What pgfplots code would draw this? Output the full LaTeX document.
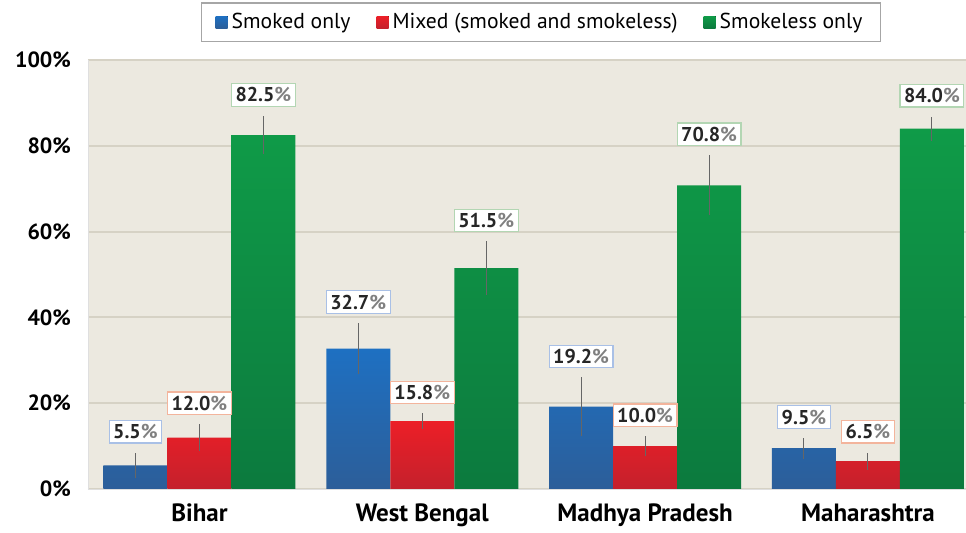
\documentclass[border=0pt]{standalone}
\usepackage{pgfplots}
\pgfplotsset{compat=1.18}
\usepackage{pgfplotstable}
\usepackage{fontspec}
\setmainfont{PT Sans}
\definecolor{bgbeige}{HTML}{ECE9E0}
\definecolor{gridc}{HTML}{D6D2C5}
\definecolor{blueT}{HTML}{1E70C2}
\definecolor{blueB}{HTML}{2C5E99}
\definecolor{redT}{HTML}{EC1F27}
\definecolor{redB}{HTML}{C4202C}
\definecolor{greenT}{HTML}{0F9B48}
\definecolor{greenB}{HTML}{0C7A3E}
\definecolor{blueL}{HTML}{A9C0E6}
\definecolor{redL}{HTML}{F3B49C}
\definecolor{greenL}{HTML}{B3D6B3}
\pgfplotstableread{
x y e
0 5.5 3.0
1 32.7 6.0
2 19.2 6.8
3 9.5 2.4
}\smoked
\pgfplotstableread{
x y e
0 12.0 3.1
1 15.8 1.8
2 10.0 2.3
3 6.5 2.0
}\mixed
\pgfplotstableread{
x y e
0 82.5 4.5
1 51.5 6.2
2 70.8 7.0
3 84.0 2.8
}\smokeless
\begin{document}
\begin{tikzpicture}
\begin{axis}[
  scale only axis, width=439pt, height=214.5pt,
  ybar=0pt, bar width=32pt,
  xmin=-0.5, xmax=3.44, ymin=0, ymax=100,
  xtick={0,1,2,3},
  xticklabels={Bihar,West Bengal,Madhya Pradesh,Maharashtra},
  ytick={0,20,40,60,80,100},
  yticklabel={\pgfmathprintnumber{\tick}\%},
  /pgf/number format/assume math mode=true,
  yticklabel style={font=\bfseries\fontsize{11}{13}\selectfont, xshift=-5pt},
  xticklabel style={font=\bfseries\fontsize{12.5}{14}\selectfont, yshift=-4pt},
  major tick length=0pt,
  ymajorgrids, grid style={gridc, line width=1pt},
  axis background/.style={fill=bgbeige},
  axis line style={draw=gray!25},
  axis x line*=bottom, axis y line*=left,
  error bars/y dir=both, error bars/y explicit,
  error bars/error mark=none,
  error bars/error bar style={black!60, line width=0.5pt},
  visualization depends on={\thisrow{e} \as \ee},
  nodes near coords={\pgfmathprintnumber[fixed,fixed zerofill,precision=1]{\pgfplotspointmeta}\textcolor{gray}{\%}},
  every node near coord/.append style={font=\bfseries\fontsize{10}{12}\selectfont, text=black!85, fill=white, inner sep=2pt, line width=0.6pt, anchor=south, yshift=\ee*2.145pt+4.5pt},
  legend style={at={(0.516,1.042)}, anchor=south, legend columns=3, draw=gray!70, line width=0.6pt, fill=white,
    font=\fontsize{10.8}{12}\selectfont, /tikz/every even column/.append style={column sep=11pt}, inner xsep=7pt, inner ysep=3pt},
  legend image code/.code={\fill[#1] (0pt,-3pt) rectangle (6pt,3pt);},
]
\addplot[draw=none, top color=blueT, bottom color=blueB, every node near coord/.append style={draw=blueL}]
  table[x=x, y=y, y error=e] {\smoked};
\addlegendentry{Smoked only}
\addplot[draw=none, top color=redT, bottom color=redB, every node near coord/.append style={draw=redL}]
  table[x=x, y=y, y error=e] {\mixed};
\addlegendentry{Mixed (smoked and smokeless)}
\addplot[draw=none, top color=greenT, bottom color=greenB, every node near coord/.append style={draw=greenL}]
  table[x=x, y=y, y error=e] {\smokeless};
\addlegendentry{Smokeless only}
\end{axis}
\pgfresetboundingbox
\path (-44pt,-22pt) rectangle (439pt,244.5pt);
\end{tikzpicture}
\end{document}
